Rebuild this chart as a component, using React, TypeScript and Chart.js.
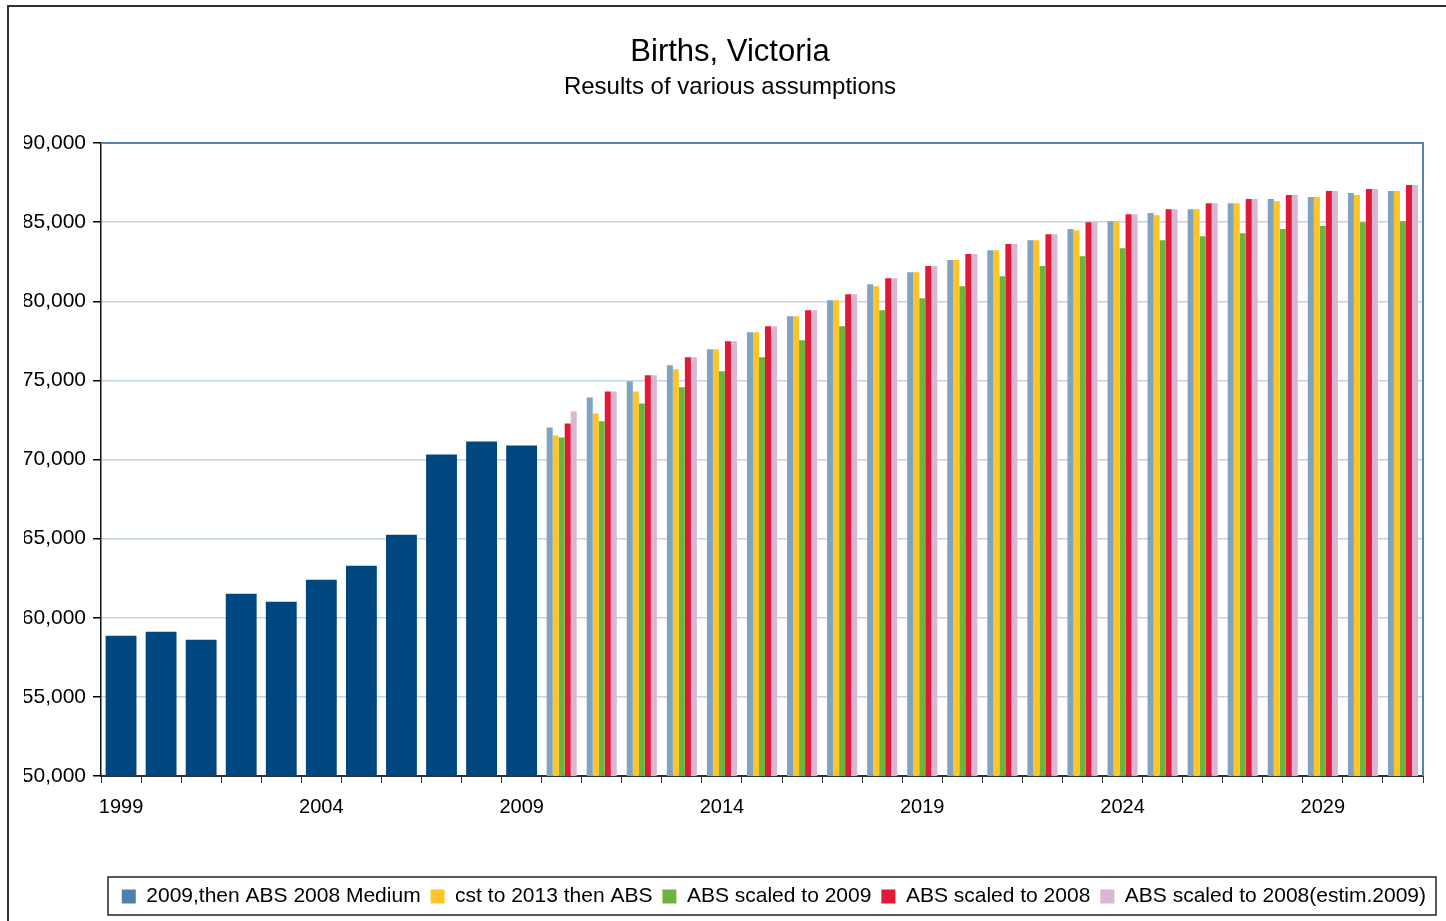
import React, { useEffect, useRef } from 'react';
import { Chart, registerables } from 'chart.js';

Chart.register(...registerables);

const years = [
  '1999', '2000', '2001', '2002', '2003', '2004', '2005', '2006', '2007', '2008', '2009',
  '2010', '2011', '2012', '2013', '2014', '2015', '2016', '2017', '2018', '2019', '2020',
  '2021', '2022', '2023', '2024', '2025', '2026', '2027', '2028', '2029', '2030', '2031',
];

const labeledYears = ['1999', '2004', '2009', '2014', '2019', '2024', '2029'];

const historical = [58860, 59110, 58610, 61520, 61010, 62400, 63290, 65250, 70320, 71140, 70890];

const absMedium = [72030, 73920, 74940, 75950, 76960, 78040, 79050, 80060, 81080, 81840, 82600, 83230, 83860, 84560, 85060, 85570, 85820, 86200, 86460, 86580, 86840, 86960];
const cstTo2013 = [71520, 72910, 74300, 75700, 76960, 78040, 79050, 80060, 80950, 81840, 82600, 83230, 83860, 84490, 85060, 85440, 85820, 86200, 86330, 86580, 86710, 86960];
const scaled2009 = [71390, 72410, 73540, 74560, 75570, 76460, 77530, 78420, 79430, 80190, 80950, 81580, 82220, 82850, 83350, 83860, 84110, 84300, 84560, 84750, 85000, 85060];
const scaled2008 = [72280, 74300, 75320, 76460, 77470, 78420, 79430, 80440, 81460, 82220, 82980, 83610, 84240, 85000, 85500, 85820, 86200, 86460, 86710, 86960, 87090, 87340];
const scaled2008Estim = [73040, 74300, 75320, 76460, 77470, 78420, 79430, 80440, 81460, 82220, 82980, 83610, 84240, 85000, 85500, 85820, 86200, 86460, 86710, 86960, 87090, 87340];

const seriesNames = [
  '2009,then ABS 2008 Medium',
  'cst to 2013 then ABS',
  'ABS scaled to 2009',
  'ABS scaled to 2008',
  'ABS scaled to 2008(estim.2009)',
];

const FONT = "'Liberation Sans', Arial, sans-serif";

export default function App() {
  const canvasRef = useRef<HTMLCanvasElement | null>(null);

  useEffect(() => {
    const canvas = canvasRef.current;
    if (!canvas) return;

    const histData = [...historical, ...Array(years.length - historical.length).fill(null)];
    const pad = (arr: number[]) => [...Array(years.length - arr.length).fill(null), ...arr];

    const projColors = ['#7fa3c1', '#ffc425', '#6cb33f', '#e31837', '#d8b7d5'];
    const projSeries = [absMedium, cstTo2013, scaled2009, scaled2008, scaled2008Estim];

    const plotFrame = {
      id: 'plotFrame',
      afterDatasetsDraw(chart: any) {
        const { ctx, chartArea } = chart;
        ctx.save();
        ctx.strokeStyle = '#5a86ad';
        ctx.lineWidth = 2;
        ctx.beginPath();
        ctx.moveTo(chartArea.left, chartArea.top);
        ctx.lineTo(chartArea.right, chartArea.top);
        ctx.lineTo(chartArea.right, chartArea.bottom);
        ctx.stroke();
        ctx.restore();
      },
      afterDraw(chart: any) {
        const lg = chart.legend;
        if (!lg || !lg.legendHitBoxes || !lg.legendHitBoxes.length) return;
        const hb = lg.legendHitBoxes;
        let l = Infinity;
        hb.forEach((h: any) => {
          l = Math.min(l, h.left);
        });
        const left = Math.min(l - 9, 108);
        const { ctx } = chart;
        ctx.save();
        ctx.strokeStyle = '#222';
        ctx.lineWidth = 1.5;
        ctx.strokeRect(left, 877, 1436 - left, 38);
        ctx.restore();
      },
    };

    const chart = new Chart(canvas, {
      type: 'bar',
      data: {
        labels: years,
        datasets: [
          {
            label: 'Historical',
            data: histData,
            backgroundColor: '#00467f',
            categoryPercentage: 0.77,
            barPercentage: 1,
            skipNull: true,
          },
          ...projSeries.map((s, i) => ({
            label: seriesNames[i],
            data: pad(s),
            backgroundColor: projColors[i],
            categoryPercentage: 0.75,
            barPercentage: 1,
            skipNull: true,
          })),
        ],
      },
      options: {
        animation: false,
        responsive: false,
        maintainAspectRatio: false,
        layout: { padding: { left: 24, right: 10, top: 0, bottom: 4 } },
        datasets: { bar: { skipNull: true } },
        scales: {
          x: {
            type: 'category',
            offset: true,
            grid: {
              display: true,
              drawOnChartArea: false,
              drawTicks: true,
              tickLength: 7,
              tickColor: '#333',
              offset: true,
            },
            border: { display: true, color: '#26323f', width: 2 },
            ticks: {
              autoSkip: false,
              maxRotation: 0,
              minRotation: 0,
              padding: 12,
              color: '#000',
              font: { family: FONT, size: 20 },
              callback: function (this: any, value: any) {
                const lab = years[value as number];
                return labeledYears.includes(lab) ? lab : '';
              },
            },
            afterFit(scale: any) {
              scale.height = 100;
            },
          },
          y: {
            type: 'linear',
            position: 'left',
            min: 50000,
            max: 90000,
            grid: {
              color: '#c3d3e3',
              lineWidth: 1.5,
              drawTicks: true,
              tickLength: 8,
              tickColor: '#000',
            },
            border: { display: true, color: '#111', width: 1.5 },
            ticks: {
              stepSize: 5000,
              padding: 7,
              color: '#000',
              font: { family: FONT, size: 21 },
              callback: (v: any) => Number(v).toLocaleString('en-US'),
            },
            afterFit(scale: any) {
              scale.width = 77;
            },
          },
          yr: {
            type: 'linear',
            position: 'right',
            display: true,
            grid: { display: false, drawTicks: false },
            border: { display: false },
            ticks: { display: false },
            afterFit(scale: any) {
              scale.width = 13;
            },
          },
        },
        plugins: {
          title: {
            display: true,
            text: 'Births, Victoria',
            color: '#000',
            font: { family: FONT, size: 31, weight: 'normal' },
            padding: { top: 34, bottom: 0 },
          },
          subtitle: {
            display: true,
            text: 'Results of various assumptions',
            color: '#000',
            font: { family: FONT, size: 24, weight: 'normal' },
            padding: { top: 2, bottom: 41 },
          },
          legend: {
            display: true,
            position: 'bottom',
            align: 'end',
            labels: {
              boxWidth: 14,
              boxHeight: 14,
              padding: 10,
              color: '#000',
              font: { family: FONT, size: 21 },
              generateLabels(ch: any) {
                const items = Chart.defaults.plugins.legend.labels.generateLabels(ch);
                return items
                  .filter((it: any) => it.datasetIndex !== 0)
                  .map((it: any, i: number) => ({
                    ...it,
                    fillStyle: i === 0 ? '#4f7faf' : it.fillStyle,
                    strokeStyle: i === 0 ? '#4f7faf' : it.fillStyle,
                    lineWidth: 0,
                  }));
              },
            },
          },
          tooltip: { enabled: false },
        },
      },
      plugins: [plotFrame],
    });

    return () => {
      chart.destroy();
    };
  }, []);

  return (
    <div style={{ position: 'fixed', left: 0, top: 0, width: 1446, height: 921, overflow: 'hidden', background: '#fff' }}>
      <div
        style={{
          position: 'absolute',
          left: 7,
          top: 5,
          width: 1500,
          height: 1000,
          border: '2px solid #333',
          boxSizing: 'border-box',
        }}
      />
      <canvas
        ref={canvasRef}
        width={1446}
        height={921}
        style={{ position: 'absolute', left: 0, top: 0, width: 1446, height: 921 }}
      />
    </div>
  );
}
